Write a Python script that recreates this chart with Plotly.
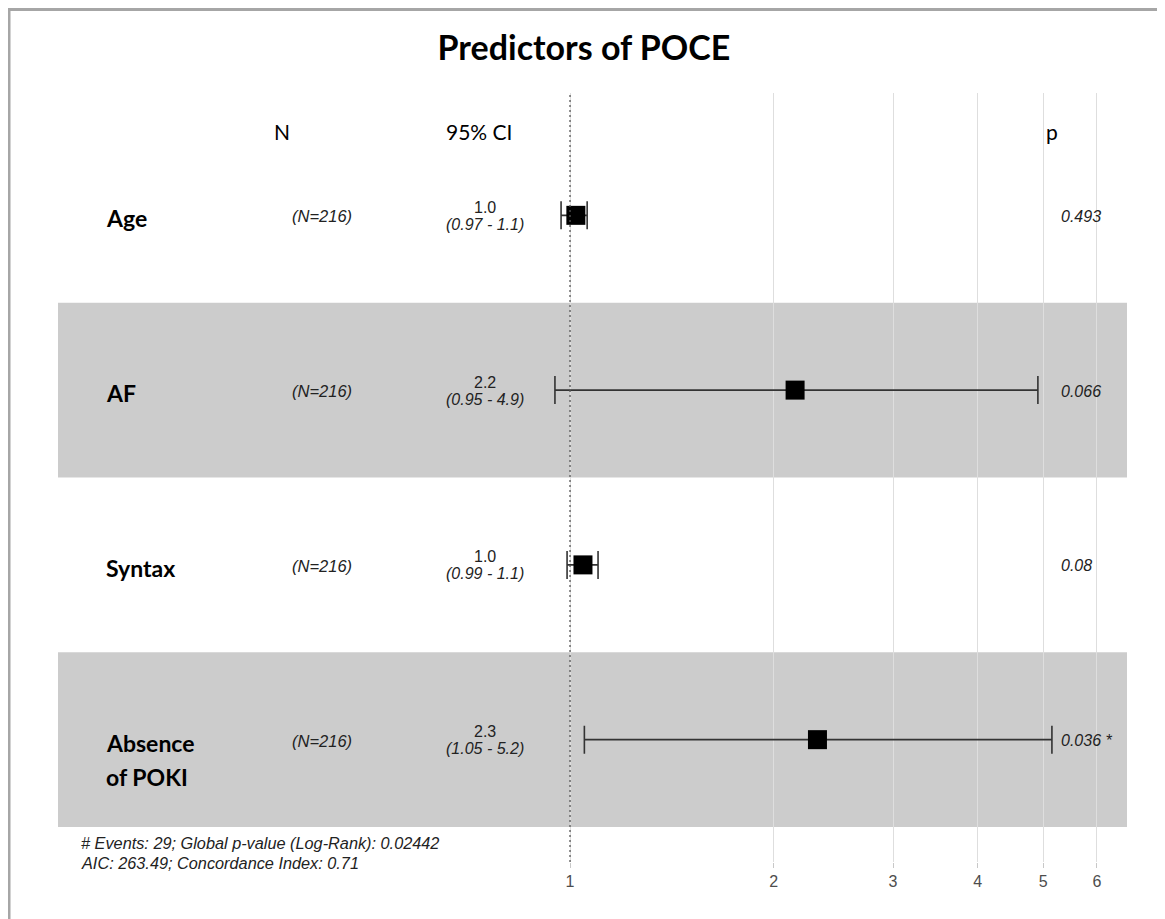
import plotly.graph_objects as go

# ---------------- data ----------------
title_text = "Predictors of POCE"
variables = ["Age", "AF", "Syntax", "Absence\nof POKI"]
n_text = ["(N=216)", "(N=216)", "(N=216)", "(N=216)"]
hr = [1.02, 2.15, 1.045, 2.32]
ci_low = [0.97, 0.95, 0.99, 1.05]
ci_high = [1.06, 4.91, 1.10, 5.15]
hr_text = ["1.0", "2.2", "1.0", "2.3"]
ci_text = ["(0.97 - 1.1)", "(0.95 - 4.9)", "(0.99 - 1.1)", "(1.05 - 5.2)"]
p_text = ["0.493", "0.066", "0.08", "0.036 *"]
x_ticks = [1, 2, 3, 4, 5, 6]
headers = ["N", "95% CI", "p"]
footer = ["# Events: 29; Global p-value (Log-Rank): 0.02442",
          "AIC: 263.49; Concordance Index: 0.71"]

# ---------------- layout constants ----------------
OFF = 8                      # page body margin
W, H = 1165, 919
PX_L, PX_R, PX_T, PX_B = 58, 1127, 93, 862   # panel edges in window pixels
ML, MR = PX_L - OFF, W - (PX_R - OFF)
MT, MB = PX_T - OFF, H - (PX_B - OFF)
PW = PX_R - PX_L
PH = PX_B - PX_T


def px_x(px):
    return (px - PX_L) / PW


def px_y(py):
    return (PX_B - py) / PH


n = len(variables)
ypos = [n - i for i in range(n)]
y_range = [0.3, n + 0.7]

SANS = "Liberation Sans, Arial, sans-serif"
CAL = "Lato, Open Sans, sans-serif"

fig = go.Figure()

# error bars + points
fig.add_trace(go.Scatter(
    x=hr, y=ypos, mode="markers",
    marker=dict(symbol="square", size=19, color="black"),
    error_x=dict(type="data", symmetric=False,
                 array=[h - e for h, e in zip(ci_high, hr)],
                 arrayminus=[e - l for e, l in zip(hr, ci_low)],
                 color="#333333", thickness=1.6, width=14),
    hoverinfo="skip", showlegend=False))

# reference line at 1
fig.add_trace(go.Scatter(
    x=[1, 1], y=y_range, mode="lines",
    line=dict(color="#555555", width=1.3, dash="2px,3px"),
    hoverinfo="skip", showlegend=False))

shapes = []
for i, y in enumerate(ypos):
    if i % 2 == 1:
        shapes.append(dict(type="rect", xref="paper", yref="y",
                           x0=0, x1=1, y0=y - 0.5, y1=y + 0.5,
                           fillcolor="rgba(0,0,0,0.2)", line=dict(width=0),
                           layer="between"))
# frame of the picture (left and top)
shapes.append(dict(type="line", xref="paper", yref="paper",
                   x0=px_x(9), x1=px_x(9), y0=px_y(940), y1=px_y(8),
                   line=dict(color="#a6a6a6", width=3)))
shapes.append(dict(type="line", xref="paper", yref="paper",
                   x0=px_x(8), x1=px_x(1180), y0=px_y(9.5), y1=px_y(9.5),
                   line=dict(color="#a6a6a6", width=3)))

ann = []
# headers
header_x = [282, 479, 1052]
for h, hx in zip(headers, header_x):
    ann.append(dict(text=h, xref="paper", yref="paper", x=px_x(hx), y=px_y(131),
                    xanchor="center", yanchor="middle", showarrow=False,
                    font=dict(family=CAL, size=21, color="black")))

for i, y in enumerate(ypos):
    lines = variables[i].split("\n")
    for j, ln in enumerate(lines):
        ann.append(dict(text="<b>%s</b>" % ln, xref="paper", yref="y",
                        x=px_x(104), y=y, xanchor="left", yanchor="middle",
                        yshift=-3 - 34 * j, showarrow=False,
                        font=dict(family=CAL, size=23, color="black")))
    ann.append(dict(text="<i>%s</i>" % n_text[i], xref="paper", yref="y",
                    x=px_x(322), y=y, xanchor="center", yanchor="middle",
                    yshift=-1, showarrow=False,
                    font=dict(family=SANS, size=16.5, color="#222222")))
    ann.append(dict(text=hr_text[i], xref="paper", yref="y",
                    x=px_x(485), y=y, xanchor="center", yanchor="middle",
                    yshift=8, showarrow=False,
                    font=dict(family=SANS, size=16, color="#222222")))
    ann.append(dict(text="<i>%s</i>" % ci_text[i], xref="paper", yref="y",
                    x=px_x(485), y=y, xanchor="center", yanchor="middle",
                    yshift=-9, showarrow=False,
                    font=dict(family=SANS, size=16, color="#222222")))
    ann.append(dict(text="<i>%s</i>" % p_text[i], xref="paper", yref="y",
                    x=px_x(1059), y=y, xanchor="left", yanchor="middle",
                    yshift=-1, showarrow=False,
                    font=dict(family=SANS, size=16, color="#222222")))

for k, line in enumerate(footer):
    ann.append(dict(text="<i>%s</i>" % line, xref="paper", yref="paper",
                    x=px_x(79), y=px_y(843 + 20 * k), xanchor="left",
                    yanchor="middle", showarrow=False,
                    font=dict(family=SANS, size=16.3, color="#222222")))

fig.update_layout(
    width=W, height=H, autosize=False,
    margin=dict(l=ML, r=MR, t=MT, b=MB),
    paper_bgcolor="white", plot_bgcolor="white",
    title=dict(text="<b>%s</b>" % title_text, x=(584 - OFF) / W, xref="container",
               y=1 - (48 - OFF) / H, yref="container", xanchor="center",
               yanchor="middle",
               font=dict(family=CAL, size=34, color="black")),
    xaxis=dict(type="log", range=[-0.7563, 0.8227],
               tickvals=x_ticks, ticktext=[str(t) for t in x_ticks],
               showgrid=True, gridcolor="#dedede", gridwidth=1,
               zeroline=False, showline=False,
               ticks="outside", ticklen=5, tickcolor="#c8c8c8", tickwidth=1,
               tickfont=dict(family=SANS, size=16, color="#4d4d4d")),
    yaxis=dict(range=y_range, visible=False, showgrid=False, zeroline=False),
    shapes=shapes, annotations=ann, showlegend=False,
)

fig.write_html("out.html")
